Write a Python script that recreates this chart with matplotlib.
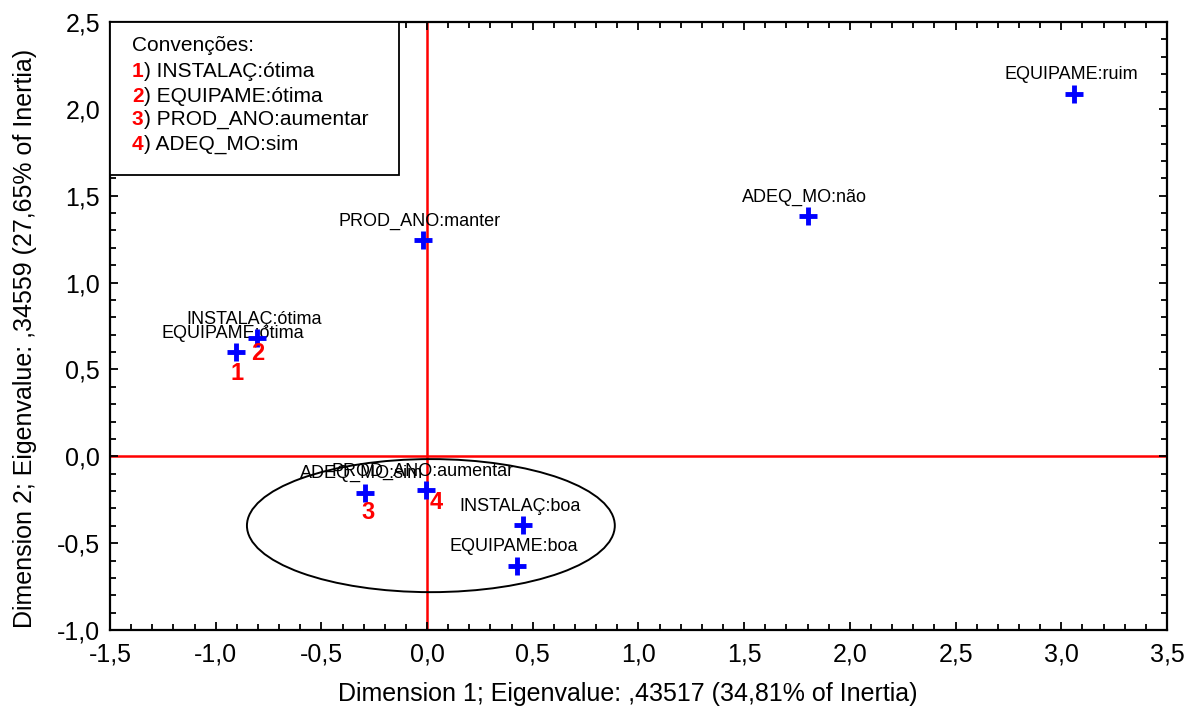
#!/usr/bin/env python3
"""Correspondence analysis map, dimensions 1 x 2, with conventions box."""
import matplotlib
matplotlib.use("Agg")
import matplotlib.pyplot as plt
from matplotlib.patches import Ellipse, Rectangle
from matplotlib.ticker import MultipleLocator, FuncFormatter

plt.rcParams["font.family"] = ["Liberation Sans", "DejaVu Sans"]

BLUE, RED, BLACK = "#0000FF", "#FF0000", "#000000"

# category points
labels = ["INSTALAÇ:ótima", "EQUIPAME:ótima", "PROD_ANO:manter", "ADEQ_MO:não",
          "EQUIPAME:ruim", "ADEQ_MO:sim", "PROD_ANO:aumentar", "INSTALAÇ:boa",
          "EQUIPAME:boa"]
dim1 = [-0.805, -0.904, -0.02, 1.80, 3.06, -0.294, -0.005, 0.454, 0.425]
dim2 = [0.68, 0.60, 1.245, 1.383, 2.086, -0.21, -0.194, -0.396, -0.63]

# red reference numbers: (number, index of point, pixel offset)
numbers = ["1", "2", "3", "4"]
number_pts = [1, 0, 5, 6]
number_off = [(1, -21), (1, -15), (3, -20), (10, -12)]

conventions = ["INSTALAÇ:ótima", "EQUIPAME:ótima", "PROD_ANO:aumentar", "ADEQ_MO:sim"]

# cluster ellipse
ell_center = (0.018, -0.399)
ell_w, ell_h = 1.74, 0.766

fig = plt.figure(figsize=(11.86, 7.11), dpi=100)
ax = fig.add_axes([0.0927, 0.1139, 0.8913, 0.8551])
ax.set_xlim(-1.5, 3.5)
ax.set_ylim(-1.0, 2.5)

ax.axhline(0, color=RED, lw=1.8, zorder=1)
ax.axvline(0, color=RED, lw=1.8, zorder=1)
ax.add_patch(Ellipse(ell_center, ell_w, ell_h, fill=False, ec=BLACK, lw=1.4, zorder=2))

ax.plot(dim1, dim2, ls="none", marker="+", ms=13, mew=3.5, color=BLUE, zorder=4)
for lab, x, y in zip(labels, dim1, dim2):
    ax.annotate(lab, (x, y), xytext=(-3, 14.5), textcoords="offset pixels",
                ha="center", va="baseline", fontsize=13, color=BLACK, zorder=3)
for num, i, (dx, dy) in zip(numbers, number_pts, number_off):
    ax.annotate(num, (dim1[i], dim2[i]), xytext=(dx, dy), textcoords="offset pixels",
                ha="center", va="center", fontsize=17, fontweight="bold", color=RED, zorder=5)

# conventions box
ax.add_patch(Rectangle((0, 0.748), 0.2734, 0.252, transform=ax.transAxes,
                       fill=True, fc="white", ec=BLACK, lw=1.3, zorder=6))
ax.text(0.0208, 0.962, "Convenções:", transform=ax.transAxes, fontsize=15,
        va="center", ha="left", zorder=7)
rows_y = [0.919, 0.878, 0.840, 0.799]
for k, (txt, yy) in enumerate(zip(conventions, rows_y)):
    ax.text(0.0208, yy, str(k + 1), transform=ax.transAxes, fontsize=15,
            fontweight="bold", color=RED, va="center", ha="left", zorder=7)
    ax.annotate(") " + txt, (0.0208, yy), xycoords="axes fraction",
                xytext=(11.7, 0), textcoords="offset pixels", fontsize=15,
                va="center", ha="left", zorder=7)

fmt = FuncFormatter(lambda v, p: f"{v:.1f}".replace(".", ","))
ax.xaxis.set_major_locator(MultipleLocator(0.5))
ax.yaxis.set_major_locator(MultipleLocator(0.5))
ax.xaxis.set_minor_locator(MultipleLocator(0.1))
ax.yaxis.set_minor_locator(MultipleLocator(0.1))
ax.xaxis.set_major_formatter(fmt)
ax.yaxis.set_major_formatter(fmt)
ax.tick_params(which="both", direction="in", top=True, right=True, width=1.3)
ax.tick_params(which="major", length=6, labelsize=18)
ax.tick_params(axis="x", which="major", pad=9)
ax.tick_params(axis="y", which="major", pad=7)
ax.tick_params(which="minor", length=4)
for s in ax.spines.values():
    s.set_linewidth(1.6)

ax.set_xlabel("Dimension 1; Eigenvalue: ,43517 (34,81% of Inertia)", fontsize=18, va="center")
ax.xaxis.set_label_coords(0.49, -0.105)
ax.set_ylabel("Dimension 2; Eigenvalue: ,34559 (27,65% of Inertia)", fontsize=18, va="center")
ax.yaxis.set_label_coords(-0.080, 0.48)

fig.savefig("out.png", dpi=100, facecolor="white")
